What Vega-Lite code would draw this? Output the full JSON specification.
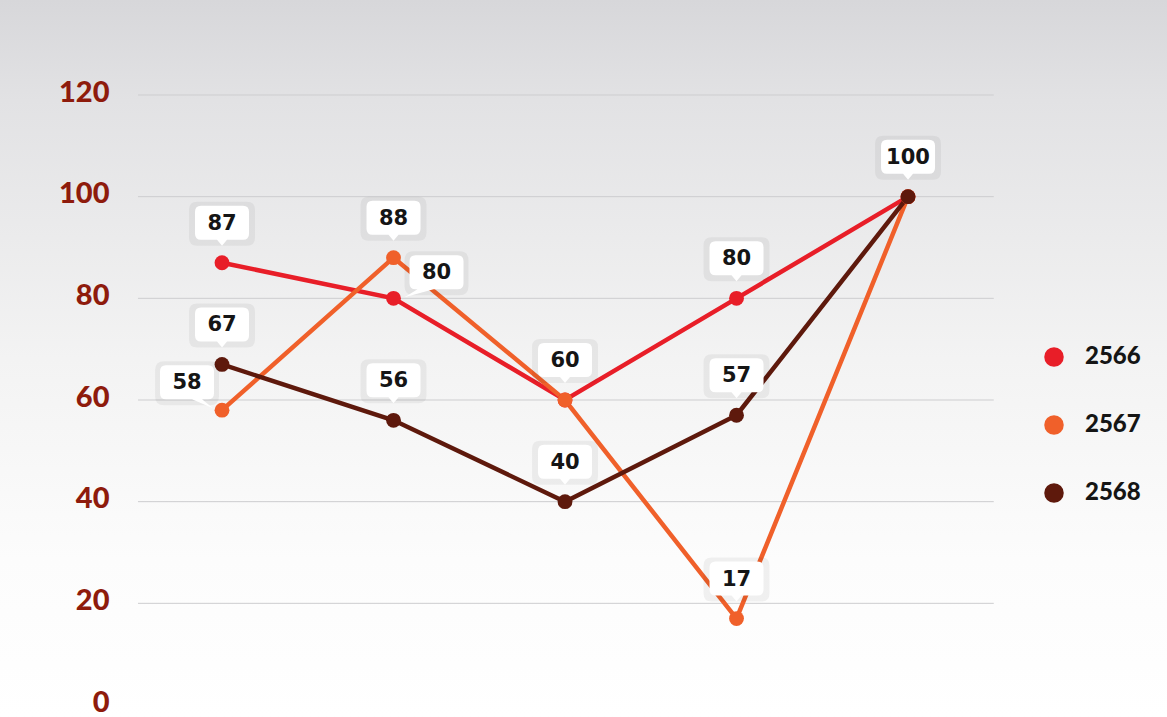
{
  "$schema": "https://vega.github.io/schema/vega-lite/v6.json",
  "width": 1167,
  "height": 717,
  "autosize": {"type": "none"},
  "padding": 0,
  "background": "#ffffff",
  "config": {
    "view": {"stroke": null},
    "legend": {
      "orient": "none",
      "legendX": 1042,
      "legendY": 345,
      "zindex": 1,
      "title": null,
      "symbolType": "circle",
      "symbolSize": 380,
      "symbolOpacity": 1,
      "symbolStrokeWidth": 0,
      "labelFont": "Lato",
      "labelFontSize": 24,
      "labelFontWeight": 900,
      "labelColor": "#151515",
      "labelOffset": 19,
      "rowPadding": 44,
      "padding": 0
    }
  },
  "resolve": {"legend": {"color": "independent"}},
  "data": {
    "values": [
      {"item": 1, "series": "2566", "value": 87},
      {"item": 2, "series": "2566", "value": 80},
      {"item": 3, "series": "2566", "value": 60},
      {"item": 4, "series": "2566", "value": 80},
      {"item": 5, "series": "2566", "value": 100},
      {"item": 1, "series": "2567", "value": 58},
      {"item": 2, "series": "2567", "value": 88},
      {"item": 3, "series": "2567", "value": 60},
      {"item": 4, "series": "2567", "value": 17},
      {"item": 5, "series": "2567", "value": 100},
      {"item": 1, "series": "2568", "value": 67},
      {"item": 2, "series": "2568", "value": 56},
      {"item": 3, "series": "2568", "value": 40},
      {"item": 4, "series": "2568", "value": 57},
      {"item": 5, "series": "2568", "value": 100}
    ]
  },
  "layer": [
    {
      "data": {"values": [{}]},
      "mark": {
        "type": "rect",
        "fill": {
          "gradient": "linear",
          "x1": 0, "y1": 0, "x2": 0, "y2": 1,
          "stops": [
            {"offset": 0, "color": "#d7d7da"},
            {"offset": 0.14, "color": "#e2e2e4"},
            {"offset": 0.5, "color": "#f3f3f3"},
            {"offset": 0.78, "color": "#fcfcfc"},
            {"offset": 1, "color": "#ffffff"}
          ]
        }
      },
      "encoding": {}
    },
    {
      "data": {"values": [{"value": 20}, {"value": 40}, {"value": 60}, {"value": 80}, {"value": 100}, {"value": 120}]},
      "mark": {"type": "rule", "color": "#cdcdcf", "strokeWidth": 1},
      "encoding": {
        "x": {"datum": 0.51, "type": "quantitative", "scale": {"domain": [-0.2945, 6.51], "nice": false, "zero": false}, "axis": null},
        "x2": {"datum": 5.5},
        "y": {
          "field": "value", "type": "quantitative",
          "scale": {"domain": [-2.36, 138.69], "nice": false, "zero": false},
          "axis": {
            "values": [0, 20, 40, 60, 80, 100, 120],
            "domain": false, "ticks": false, "grid": false, "title": null, "zindex": 1,
            "labelFont": "Lato", "labelFontSize": 29, "labelFontWeight": 900,
            "labelColor": "#8E1B0C", "labelPadding": 29, "labelOffset": -3, "offset": -138
          }
        }
      }
    },
    {
      "mark": {"type": "line", "strokeWidth": 4.5},
      "encoding": {
        "x": {"field": "item", "type": "quantitative"},
        "y": {"field": "value", "type": "quantitative"},
        "color": {
          "field": "series", "type": "nominal",
          "scale": {"domain": ["2566", "2567", "2568"], "range": ["#E81E28", "#F0602A", "#5E190C"]},
          "legend": null
        }
      }
    },
    {
      "mark": {"type": "point", "filled": true, "size": 220, "opacity": 1},
      "encoding": {
        "x": {"field": "item", "type": "quantitative"},
        "y": {"field": "value", "type": "quantitative"},
        "color": {"field": "series", "type": "nominal", "legend": {"zindex": 1}}
      }
    },
    {
      "transform": [{"filter": "!(datum.series == '2567' && (datum.item == 1 || datum.item == 3)) && !(datum.series == '2566' && datum.item == 2) && !(datum.series != '2568' && datum.item == 5)"}],
      "encoding": {
        "x": {"field": "item", "type": "quantitative"},
        "y": {"field": "value", "type": "quantitative"}
      },
      "layer": [
        {
          "mark": {"type": "point", "filled": true, "size": 4, "fill": "#000000", "fillOpacity": 0.05, "strokeWidth": 0,
            "shape": "M-25,-61H25Q33,-61 33,-53V-25Q33,-17 25,-17H-25Q-33,-17 -33,-25V-53Q-33,-61 -25,-61Z"}
        },
        {
          "mark": {"type": "point", "filled": true, "size": 4, "fill": "#ffffff", "fillOpacity": 1, "strokeWidth": 0,
            "shape": "M-21,-57H21Q27,-57 27,-51V-29Q27,-23 21,-23H5L0,-17L-5,-23H-21Q-27,-23 -27,-29V-51Q-27,-57 -21,-57Z"}
        },
        {
          "mark": {"type": "text", "font": "DejaVu Sans", "fontSize": 21, "fontWeight": "bold", "color": "#151515", "baseline": "middle", "align": "center", "dy": -39},
          "encoding": {"text": {"field": "value", "type": "quantitative"}}
        }
      ]
    },
    {
      "transform": [{"filter": "datum.series == '2567' && datum.item == 1"}],
      "encoding": {
        "x": {"field": "item", "type": "quantitative"},
        "y": {"field": "value", "type": "quantitative"}
      },
      "layer": [
        {
          "mark": {"type": "point", "filled": true, "size": 4, "fill": "#000000", "fillOpacity": 0.05, "strokeWidth": 0,
            "shape": "M-58,-49H-12Q-3,-49 -3,-40V-14Q-3,-5 -12,-5H-58Q-67,-5 -67,-14V-40Q-67,-49 -58,-49Z"}
        },
        {
          "mark": {"type": "point", "filled": true, "size": 4, "fill": "#ffffff", "fillOpacity": 1, "strokeWidth": 0,
            "shape": "M-56,-45H-14Q-8,-45 -8,-39V-17Q-8,-11 -14,-11H-20L-9,-2L-30,-11H-56Q-62,-11 -62,-17V-39Q-62,-45 -56,-45Z"}
        },
        {
          "mark": {"type": "text", "font": "DejaVu Sans", "fontSize": 21, "fontWeight": "bold", "color": "#151515", "baseline": "middle", "align": "center", "dx": -35, "dy": -27},
          "encoding": {"text": {"field": "value", "type": "quantitative"}}
        }
      ]
    },
    {
      "transform": [{"filter": "datum.series == '2566' && datum.item == 2"}],
      "encoding": {
        "x": {"field": "item", "type": "quantitative"},
        "y": {"field": "value", "type": "quantitative"}
      },
      "layer": [
        {
          "mark": {"type": "point", "filled": true, "size": 4, "fill": "#000000", "fillOpacity": 0.05, "strokeWidth": 0,
            "shape": "M20,-47H66Q75,-47 75,-38V-12Q75,-3 66,-3H20Q11,-3 11,-12V-38Q11,-47 20,-47Z"}
        },
        {
          "mark": {"type": "point", "filled": true, "size": 4, "fill": "#ffffff", "fillOpacity": 1, "strokeWidth": 0,
            "shape": "M22,-43H64Q70,-43 70,-37V-15Q70,-9 64,-9H40L11,-1L24,-9H22Q16,-9 16,-15V-37Q16,-43 22,-43Z"}
        },
        {
          "mark": {"type": "text", "font": "DejaVu Sans", "fontSize": 21, "fontWeight": "bold", "color": "#151515", "baseline": "middle", "align": "center", "dx": 43, "dy": -25},
          "encoding": {"text": {"field": "value", "type": "quantitative"}}
        }
      ]
    }
  ]
}
